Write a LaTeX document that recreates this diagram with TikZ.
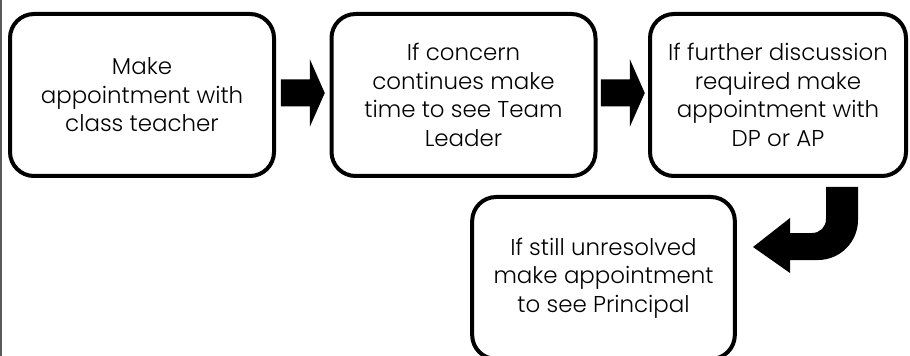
\documentclass[tikz,border=0pt]{standalone}
\usepackage{fontspec}
\setmainfont{Poppins Light}
\usetikzlibrary{calc}
\tikzset{
  stage/.style={draw,line width=3pt,rounded corners=18pt,minimum height=121.5pt,align=center,inner sep=0pt,font=\fontsize{17.2}{21.4}\selectfont},
  blockarrow/.pic={\fill (-22,-13.5)--(7,-13.5)--(7,-34)--(22,0)--(7,34)--(7,13.5)--(-22,13.5)--cycle;}
}
\begin{document}
\begin{tikzpicture}[x=0.75pt,y=-0.75pt]
\useasboundingbox (0,0) rectangle (910,356);
\draw[line width=1.5pt,black!65] (1,0)--(1,356);
\node[stage,minimum width=198pt](make) at (142,95){Make\\appointment with\\class teacher};
\node[stage,minimum width=198pt](concern) at (463.5,95){If concern\\continues make\\time to see Team\\Leader};
\node[stage,minimum width=192pt](further) at (778,95){If further discussion\\required make\\appointment with\\DP or AP};
\node[stage,minimum width=197pt](principal) at (603.5,278){If still unresolved\\make appointment\\to see Principal};
\pic at ($(make.east)!0.5!(concern.west)+(0,-2)$) {blockarrow};
\pic at ($(concern.east)!0.5!(further.west)+(0,-2)$) {blockarrow};
\fill (826,187)--(858,187)--(858,220) .. controls (858,242) and (840,260) .. (818,260)--(790,260)--(790,273)--(753,247)--(790,218)--(790,233)--(812,233) .. controls (820,233) and (826,227) .. (826,219)--cycle;
\end{tikzpicture}
\end{document}
